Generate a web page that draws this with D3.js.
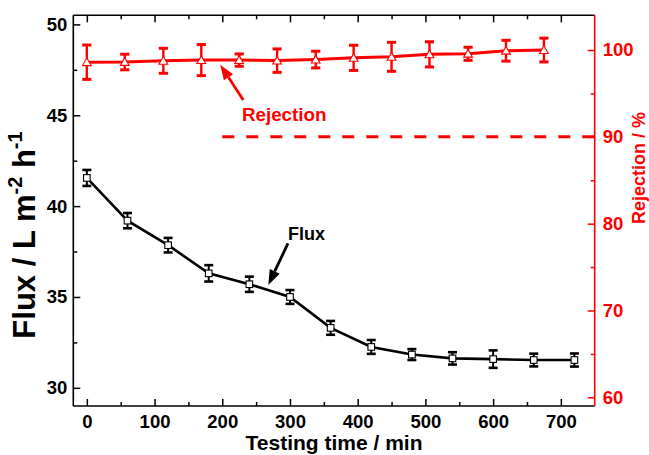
<!DOCTYPE html>
<html>
<head>
<meta charset="utf-8">
<script src="https://cdn.jsdelivr.net/npm/d3@7"></script>
<style>
  html, body { margin: 0; padding: 0; background: #fff; }
  svg { display: block; }
  text { font-family: "Liberation Sans", Arial, sans-serif; font-weight: bold; }
</style>
</head>
<body>
<svg id="chart" width="649" height="455"></svg>
<script>
// ---- data ----
const fluxTime = [0, 60, 120, 180, 240, 300, 360, 420, 480, 540, 600, 660, 720];
const fluxValue = [41.55, 39.2, 37.85, 36.3, 35.7, 35.0, 33.3, 32.25, 31.83, 31.62, 31.58, 31.53, 31.53];
const fluxErr = [0.44, 0.42, 0.4, 0.45, 0.42, 0.38, 0.38, 0.38, 0.3, 0.34, 0.48, 0.35, 0.36];

const rejTime = [0, 56, 113, 169, 225, 281, 338, 394, 450, 506, 563, 619, 675];
const rejValue = [98.6, 98.62, 98.76, 98.84, 98.84, 98.78, 98.9, 99.1, 99.22, 99.5, 99.57, 99.92, 100.0];
const rejErr = [1.98, 0.9, 1.44, 1.79, 0.71, 1.35, 0.96, 1.45, 1.67, 1.45, 0.75, 1.2, 1.37];

const refLine = { value: 90, from: 200, to: 750 };

const xTicks = [0, 100, 200, 300, 400, 500, 600, 700];
const xMinor = [50, 150, 250, 350, 450, 550, 650];
const yLTicks = [30, 35, 40, 45, 50];
const yLMinor = [32.5, 37.5, 42.5, 47.5];
const yRTicks = [60, 70, 80, 90, 100];
const yRMinor = [65, 75, 85, 95];

const RED = "#ff0000";

// ---- scales ----
const pLeft = 73.3, pRight = 594.7, pTop = 15.3, pBottom = 406;
const x = d3.scaleLinear().domain([-20, 750]).range([pLeft, pRight]);
const yL = d3.scaleLinear().domain([29, 50.5]).range([pBottom, pTop]);
const yR = d3.scaleLinear().domain([59, 104]).range([pBottom, pTop]);

const svg = d3.select("#chart");

// ---- axes ----
function styleAxis(g, color) {
  g.select(".domain").remove();
  g.selectAll(".tick line").attr("stroke", color).attr("stroke-width", 1.5);
  g.selectAll(".tick text").attr("fill", color).attr("font-size", 18.5)
    .attr("font-family", '"Liberation Sans", Arial, sans-serif').attr("font-weight", "bold");
}

// bottom
svg.append("g").attr("transform", `translate(0,${pBottom})`)
  .call(d3.axisBottom(x).tickValues(xTicks).tickSize(-7).tickPadding(9).tickFormat(d3.format("d")))
  .call(g => styleAxis(g, "#000"));
svg.append("g").attr("transform", `translate(0,${pBottom})`)
  .call(d3.axisBottom(x).tickValues(xMinor).tickSize(-4).tickFormat(""))
  .call(g => styleAxis(g, "#000"));
// top (mirror)
svg.append("g").attr("transform", `translate(0,${pTop})`)
  .call(d3.axisTop(x).tickValues(xTicks).tickSize(-7).tickFormat(""))
  .call(g => styleAxis(g, "#000"));
svg.append("g").attr("transform", `translate(0,${pTop})`)
  .call(d3.axisTop(x).tickValues(xMinor).tickSize(-4).tickFormat(""))
  .call(g => styleAxis(g, "#000"));
// left
svg.append("g").attr("transform", `translate(${pLeft},0)`)
  .call(d3.axisLeft(yL).tickValues(yLTicks).tickSize(-7).tickPadding(6).tickFormat(d3.format("d")))
  .call(g => styleAxis(g, "#000"));
svg.append("g").attr("transform", `translate(${pLeft},0)`)
  .call(d3.axisLeft(yL).tickValues(yLMinor).tickSize(-4).tickFormat(""))
  .call(g => styleAxis(g, "#000"));
// right
svg.append("g").attr("transform", `translate(${pRight},0)`)
  .call(d3.axisRight(yR).tickValues(yRTicks).tickSize(-7).tickPadding(8).tickFormat(d3.format("d")))
  .call(g => styleAxis(g, RED));
svg.append("g").attr("transform", `translate(${pRight},0)`)
  .call(d3.axisRight(yR).tickValues(yRMinor).tickSize(-4).tickFormat(""))
  .call(g => styleAxis(g, RED));

// frame lines
svg.append("line").attr("x1", pLeft).attr("x2", pRight).attr("y1", pBottom).attr("y2", pBottom)
  .attr("stroke", "#000").attr("stroke-width", 1.6);
svg.append("line").attr("x1", pLeft).attr("x2", pRight).attr("y1", pTop).attr("y2", pTop)
  .attr("stroke", "#000").attr("stroke-width", 1.6);
svg.append("line").attr("x1", pLeft).attr("x2", pLeft).attr("y1", pTop).attr("y2", pBottom)
  .attr("stroke", "#000").attr("stroke-width", 1.6);
svg.append("line").attr("x1", pRight).attr("x2", pRight).attr("y1", pTop).attr("y2", pBottom)
  .attr("stroke", RED).attr("stroke-width", 1.6);

// ---- reference dashed line ----
svg.append("line")
  .attr("x1", x(refLine.from)).attr("x2", x(refLine.to))
  .attr("y1", yR(refLine.value)).attr("y2", yR(refLine.value))
  .attr("stroke", RED).attr("stroke-width", 3).attr("stroke-dasharray", "12,12");

// ---- flux series ----
const flux = fluxTime.map((t, i) => ({ t, v: fluxValue[i], e: fluxErr[i] }));
svg.append("path").datum(flux)
  .attr("d", d3.line().x(d => x(d.t)).y(d => yL(d.v)))
  .attr("fill", "none").attr("stroke", "#000").attr("stroke-width", 2.6);
const fe = svg.append("g").selectAll("g").data(flux).join("g");
fe.append("line").attr("x1", d => x(d.t)).attr("x2", d => x(d.t))
  .attr("y1", d => yL(d.v - d.e)).attr("y2", d => yL(d.v + d.e))
  .attr("stroke", "#000").attr("stroke-width", 2);
fe.append("line").attr("x1", d => x(d.t) - 4.5).attr("x2", d => x(d.t) + 4.5)
  .attr("y1", d => yL(d.v - d.e)).attr("y2", d => yL(d.v - d.e))
  .attr("stroke", "#000").attr("stroke-width", 2.6);
fe.append("line").attr("x1", d => x(d.t) - 4.5).attr("x2", d => x(d.t) + 4.5)
  .attr("y1", d => yL(d.v + d.e)).attr("y2", d => yL(d.v + d.e))
  .attr("stroke", "#000").attr("stroke-width", 2.6);
fe.append("rect").attr("x", d => x(d.t) - 3.3).attr("y", d => yL(d.v) - 3.3)
  .attr("width", 6.6).attr("height", 6.6)
  .attr("fill", "#fff").attr("stroke", "#000").attr("stroke-width", 1.1);

// ---- rejection series ----
const rej = rejTime.map((t, i) => ({ t, v: rejValue[i], e: rejErr[i] }));
svg.append("path").datum(rej)
  .attr("d", d3.line().x(d => x(d.t)).y(d => yR(d.v)))
  .attr("fill", "none").attr("stroke", RED).attr("stroke-width", 3);
const re = svg.append("g").selectAll("g").data(rej).join("g");
re.append("line").attr("x1", d => x(d.t)).attr("x2", d => x(d.t))
  .attr("y1", d => yR(d.v - d.e)).attr("y2", d => yR(d.v + d.e))
  .attr("stroke", RED).attr("stroke-width", 2.4);
re.append("line").attr("x1", d => x(d.t) - 4.6).attr("x2", d => x(d.t) + 4.6)
  .attr("y1", d => yR(d.v - d.e)).attr("y2", d => yR(d.v - d.e))
  .attr("stroke", RED).attr("stroke-width", 3);
re.append("line").attr("x1", d => x(d.t) - 4.6).attr("x2", d => x(d.t) + 4.6)
  .attr("y1", d => yR(d.v + d.e)).attr("y2", d => yR(d.v + d.e))
  .attr("stroke", RED).attr("stroke-width", 3);
re.append("path")
  .attr("transform", d => `translate(${x(d.t)},${yR(d.v)})`)
  .attr("d", "M0,-4.2L4.4,3.4L-4.4,3.4Z")
  .attr("fill", "#fff").attr("stroke", RED).attr("stroke-width", 1.1);

// ---- annotations ----
function arrow(x1, y1, x2, y2, color) {
  const a = Math.atan2(y2 - y1, x2 - x1);
  const L = 15, W = 5.5;
  const bx = x2 - L * Math.cos(a), by = y2 - L * Math.sin(a);
  svg.append("line").attr("x1", x1).attr("y1", y1).attr("x2", bx).attr("y2", by)
    .attr("stroke", color).attr("stroke-width", 2.8);
  const px = -Math.sin(a) * W, py = Math.cos(a) * W;
  svg.append("path")
    .attr("d", `M${x2},${y2}L${bx + px},${by + py}L${bx - px},${by - py}Z`)
    .attr("fill", color);
}
// Flux arrow (left axis coords)
arrow(x(297), yL(37.95), x(268), yL(35.66), "#000");
svg.append("text").attr("x", x(297)).attr("y", yL(38.13))
  .attr("font-size", 18).attr("fill", "#000").text("Flux");
// Rejection arrow (right axis coords)
arrow(x(231), yR(94.24), x(197), yR(98.3), RED);
svg.append("text").attr("x", x(229)).attr("y", yR(91.8))
  .attr("font-size", 18.8).attr("fill", RED).text("Rejection");

// ---- axis titles ----
const yt = svg.append("text")
  .attr("transform", "translate(35,235) rotate(-90)")
  .attr("text-anchor", "middle").attr("font-size", 31).attr("fill", "#000");
yt.append("tspan").text("Flux / L m");
yt.append("tspan").attr("font-size", 20).attr("dy", -13).text("-2");
yt.append("tspan").attr("dy", 13).text(" h");
yt.append("tspan").attr("font-size", 20).attr("dy", -13).text("-1");

svg.append("text")
  .attr("transform", "translate(645,168) rotate(-90)")
  .attr("text-anchor", "middle").attr("font-size", 18).attr("fill", RED)
  .text("Rejection / %");

svg.append("text")
  .attr("x", (pLeft + pRight) / 2).attr("y", 450)
  .attr("text-anchor", "middle").attr("font-size", 21).attr("fill", "#000")
  .text("Testing time / min");
</script>
</body>
</html>
